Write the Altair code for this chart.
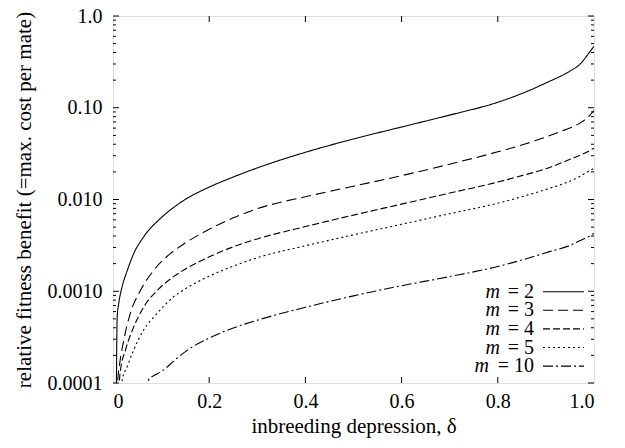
import altair as alt
import pandas as pd

# ---- data ----
d_m2 = [0.007, 0.0087, 0.012, 0.019, 0.03, 0.043, 0.064, 0.1, 0.133, 0.15, 0.2, 0.25, 0.3, 0.4,
        0.5, 0.6, 0.7, 0.8, 0.85, 0.9, 0.95, 0.97, 0.99, 1.0]
v_m2 = [7.94e-5, 5.25e-4, 7.41e-4, 1.12e-3, 1.70e-3, 2.57e-3, 3.94e-3, 6.31e-3, 8.71e-3, 0.0100,
        0.01365, 0.01758, 0.0221, 0.0327, 0.0457, 0.0617, 0.0832, 0.1148, 0.1429, 0.1862, 0.2512,
        0.2951, 0.398, 0.468]

d_m3 = [0.009, 0.01, 0.014, 0.0225, 0.036, 0.057, 0.085, 0.119, 0.15, 0.2, 0.25, 0.3, 0.4, 0.5,
        0.6, 0.7, 0.8, 0.86, 0.9, 0.93, 0.95, 0.97, 0.99, 1.0]
v_m3 = [5.0e-5, 1.07e-4, 1.64e-4, 2.95e-4, 5.75e-4, 1.02e-3, 1.70e-3, 2.57e-3, 3.35e-3, 4.73e-3,
        6.31e-3, 7.94e-3, 0.01072, 0.01396, 0.0182, 0.02427, 0.0331, 0.0407, 0.0479, 0.0550, 0.0603,
        0.0676, 0.0813, 0.0933]

d_m4 = [0.012, 0.0135, 0.0156, 0.026, 0.043, 0.064, 0.092, 0.126, 0.15, 0.2, 0.25, 0.3, 0.4, 0.5,
        0.6, 0.7, 0.8, 0.85, 0.9, 0.95, 0.97, 0.99, 1.0]
v_m4 = [5.0e-5, 1.07e-4, 1.38e-4, 2.29e-4, 4.07e-4, 6.76e-4, 1.02e-3, 1.445e-3, 1.74e-3, 2.37e-3,
        3.05e-3, 3.72e-3, 5.07e-3, 6.76e-3, 8.91e-3, 0.01175, 0.0155, 0.0182, 0.0216, 0.0274,
        0.0302, 0.0339, 0.0363]

d_m5 = [0.017, 0.019, 0.0295, 0.043, 0.064, 0.092, 0.126, 0.15, 0.2, 0.25, 0.3, 0.4, 0.5, 0.6,
        0.7, 0.8, 0.85, 0.9, 0.95, 0.97, 0.99, 1.0]
v_m5 = [6.3e-5, 1.07e-4, 1.51e-4, 2.29e-4, 3.80e-4, 5.75e-4, 8.71e-4, 1.06e-3, 1.46e-3, 1.88e-3,
        2.32e-3, 3.13e-3, 4.12e-3, 5.37e-3, 7.0e-3, 9.12e-3, 0.01072, 0.01288, 0.01585, 0.01778,
        0.0204, 0.0219]

d_m10 = [0.06, 0.071, 0.105, 0.133, 0.161, 0.2, 0.25, 0.3, 0.4, 0.5, 0.6, 0.7, 0.8, 0.85, 0.9,
         0.95, 0.97, 0.99, 1.0]
v_m10 = [7.94e-5, 1.035e-4, 1.38e-4, 1.86e-4, 2.40e-4, 3.09e-4, 3.98e-4, 4.84e-4, 6.68e-4,
         8.91e-4, 1.148e-3, 1.445e-3, 1.862e-3, 2.19e-3, 2.63e-3, 3.16e-3, 3.55e-3, 3.98e-3,
         4.27e-3]

series_names = ["2", "3", "4", "5", "10"]
dash_styles = [[1, 0], [10, 5], [7, 3], [2, 3], [10, 3, 2, 3]]

x_ticks = [0.0, 0.2, 0.4, 0.6, 0.8, 1.0]
y_major = [0.0001, 0.001, 0.01, 0.1, 1.0]
y_minor = [m * 10.0 ** e for e in range(-4, 0) for m in range(2, 10)]

# ---- build tables ----
rows = []
for name, ds, vs in zip(series_names,
                        [d_m2, d_m3, d_m4, d_m5, d_m10],
                        [v_m2, v_m3, v_m4, v_m5, v_m10]):
    for d, v in zip(ds, vs):
        rows.append({"m": name, "delta": d, "benefit": v})
df = pd.DataFrame(rows)

W, H = 481, 367
FONT = "Liberation Serif"
FS = 20
TFS = 21

xscale = alt.Scale(domain=[0, 1], nice=False, zero=False)
yscale = alt.Scale(type="log", domain=[0.0001, 1], nice=False)
dash_scale = alt.Scale(domain=series_names, range=dash_styles)

lines = alt.Chart(df).mark_line(color="black", strokeWidth=1.1, clip=True,
                                interpolate="monotone").encode(
    x=alt.X("delta:Q", scale=xscale,
            axis=alt.Axis(title="inbreeding depression, δ", values=x_ticks,
                          labelExpr="datum.value == 0 ? '0' : format(datum.value, '.1f')",
                          ticks=False, domain=False, grid=False, labelPadding=8,
                          labelFont=FONT, labelFontSize=FS, labelColor="black",
                          titleFont=FONT, titleFontSize=TFS, titleFontWeight="normal",
                          titleColor="black", titleBaseline="alphabetic", titleY=49)),
    y=alt.Y("benefit:Q", scale=yscale,
            axis=alt.Axis(title="relative fitness benefit (=max. cost per mate)",
                          values=y_major,
                          labelExpr="datum.value >= 0.5 ? '1.0' : datum.value >= 0.05 ? '0.10' : "
                                    "datum.value >= 0.005 ? '0.010' : datum.value >= 0.0005 ? '0.0010' : '0.0001'",
                          ticks=False, domain=False, grid=False, labelPadding=11,
                          labelFont=FONT, labelFontSize=FS, labelColor="black",
                          titleFont=FONT, titleFontSize=TFS, titleFontWeight="normal",
                          titleColor="black", titleBaseline="alphabetic", titleX=-83)),
    strokeDash=alt.StrokeDash("m:N", scale=dash_scale, legend=None),
    detail="m:N",
)

ymaj_df = pd.DataFrame({"v": y_major})
ymin_df = pd.DataFrame({"v": y_minor})
xt_df = pd.DataFrame({"v": x_ticks[1:-1]})

def ytick(data, x1, x2):
    return alt.Chart(data).mark_rule(color="black", strokeWidth=1).encode(
        y=alt.Y("v:Q", scale=yscale), x=alt.value(x1), x2=alt.value(x2))

def xtick(data, y1, y2):
    return alt.Chart(data).mark_rule(color="black", strokeWidth=1).encode(
        x=alt.X("v:Q", scale=xscale), y=alt.value(y1), y2=alt.value(y2))

ticks = [
    ytick(ymaj_df, 0, 6), ytick(ymaj_df, W - 6, W),
    ytick(ymin_df, 0, 3), ytick(ymin_df, W - 3, W),
    xtick(xt_df, H, H - 6), xtick(xt_df, 0, 6),
]

# ---- legend (inside, bottom right) ----
leg = pd.DataFrame({"m": series_names, "i": list(range(len(series_names)))})
leg_base = alt.Chart(leg).transform_calculate(
    ly="275.7 + 18.6 * datum.i",
    tx="421",
    mx="421 - 34 - 11 * (length(datum.m) - 1)",
    lbl="'= ' + datum.m",
    lx1="430", lx2="471",
)
leg_num = leg_base.mark_text(align="right", baseline="middle", font=FONT, fontSize=FS,
                             color="black").encode(
    x=alt.X("tx:Q", scale=None), y=alt.Y("ly:Q", scale=None), text="lbl:N")
leg_m = leg_base.mark_text(align="right", baseline="middle", font=FONT, fontSize=FS,
                           fontStyle="italic", color="black", text="m").encode(
    x=alt.X("mx:Q", scale=None), y=alt.Y("ly:Q", scale=None))
leg_line = leg_base.mark_rule(color="black", strokeWidth=1.1).encode(
    x=alt.X("lx1:Q", scale=None), x2="lx2:Q", y=alt.Y("ly:Q", scale=None),
    strokeDash=alt.StrokeDash("m:N", scale=dash_scale, legend=None))

chart = alt.layer(lines, *ticks, leg_num, leg_m, leg_line).properties(
    width=W, height=H,
    autosize=alt.AutoSizeParams(type="none"),
    padding={"left": 105, "top": 8, "right": 20, "bottom": 57},
).configure_view(stroke="black", strokeWidth=1.3).configure(background="white")

chart.save("out.html", embed_options={"renderer": "svg", "actions": False})
